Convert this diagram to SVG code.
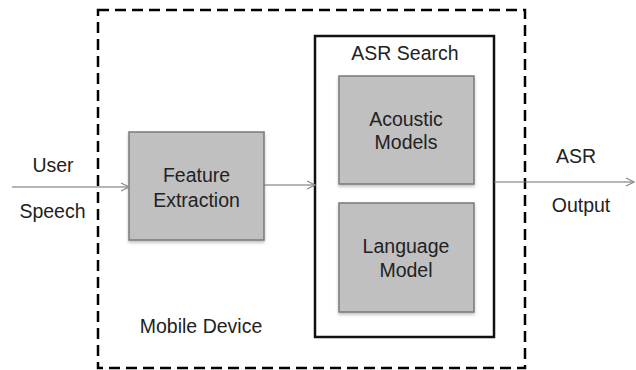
<svg xmlns="http://www.w3.org/2000/svg" width="636" height="370" viewBox="0 0 636 370">
  <defs>
    <marker id="arrow" viewBox="0 0 10 10" refX="9" refY="5" markerWidth="10" markerHeight="10" markerUnits="userSpaceOnUse" orient="auto">
      <path d="M1,1 L9,5 L1,9" fill="none" stroke="#8a8a8a" stroke-width="1.2"/>
    </marker>
    <filter id="shadow" x="-10%" y="-10%" width="120%" height="130%">
      <feDropShadow dx="0" dy="2" stdDeviation="1.5" flood-color="#000" flood-opacity="0.25"/>
    </filter>
    <style>
      text { font-family: "Liberation Sans", Arial, sans-serif; font-size: 19.5px; fill: #222; }
      .mid { text-anchor: middle; }
      .block { fill: #c0c0c0; stroke: #7a7a7a; stroke-width: 1.5; filter: url(#shadow); }
      .edge { fill: none; stroke: #6e6e6e; stroke-width: 1.2; marker-end: url(#arrow); }
    </style>
  </defs>
  <rect width="636" height="370" fill="#fff"/>

  <!-- device boundary -->
  <g id="mobile-device">
    <rect x="98" y="10" width="427" height="358" fill="none" stroke="#000" stroke-width="2.5" stroke-dasharray="11 6"/>
    <text class="mid" x="201" y="333">Mobile Device</text>
  </g>

  <g id="asr-search">
    <rect x="315" y="36" width="179" height="301" fill="#fff" stroke="#111" stroke-width="2.5"/>
    <text class="mid" x="405" y="60">ASR Search</text>
  </g>

  <g id="feature-extraction">
    <rect class="block" x="129" y="132" width="135" height="108"/>
    <text class="mid" x="196.5" y="182">Feature</text>
    <text class="mid" x="196.5" y="207">Extraction</text>
  </g>

  <g id="acoustic-models">
    <rect class="block" x="339" y="76" width="135" height="108"/>
    <text class="mid" x="406" y="126">Acoustic</text>
    <text class="mid" x="406" y="149">Models</text>
  </g>

  <g id="language-model">
    <rect class="block" x="339" y="203" width="135" height="109"/>
    <text class="mid" x="406" y="253">Language</text>
    <text class="mid" x="406" y="277">Model</text>
  </g>

  <g id="input-label">
    <text class="mid" x="53" y="172">User</text>
    <text class="mid" x="52.5" y="218">Speech</text>
  </g>

  <g id="output-label">
    <text class="mid" x="576" y="163">ASR</text>
    <text class="mid" x="581" y="212">Output</text>
  </g>

  <g id="connectors">
    <line class="edge" x1="12" y1="187" x2="129" y2="187"/>
    <line class="edge" x1="264" y1="185" x2="315" y2="185"/>
    <line class="edge" x1="494" y1="182" x2="634" y2="182"/>
  </g>
</svg>
